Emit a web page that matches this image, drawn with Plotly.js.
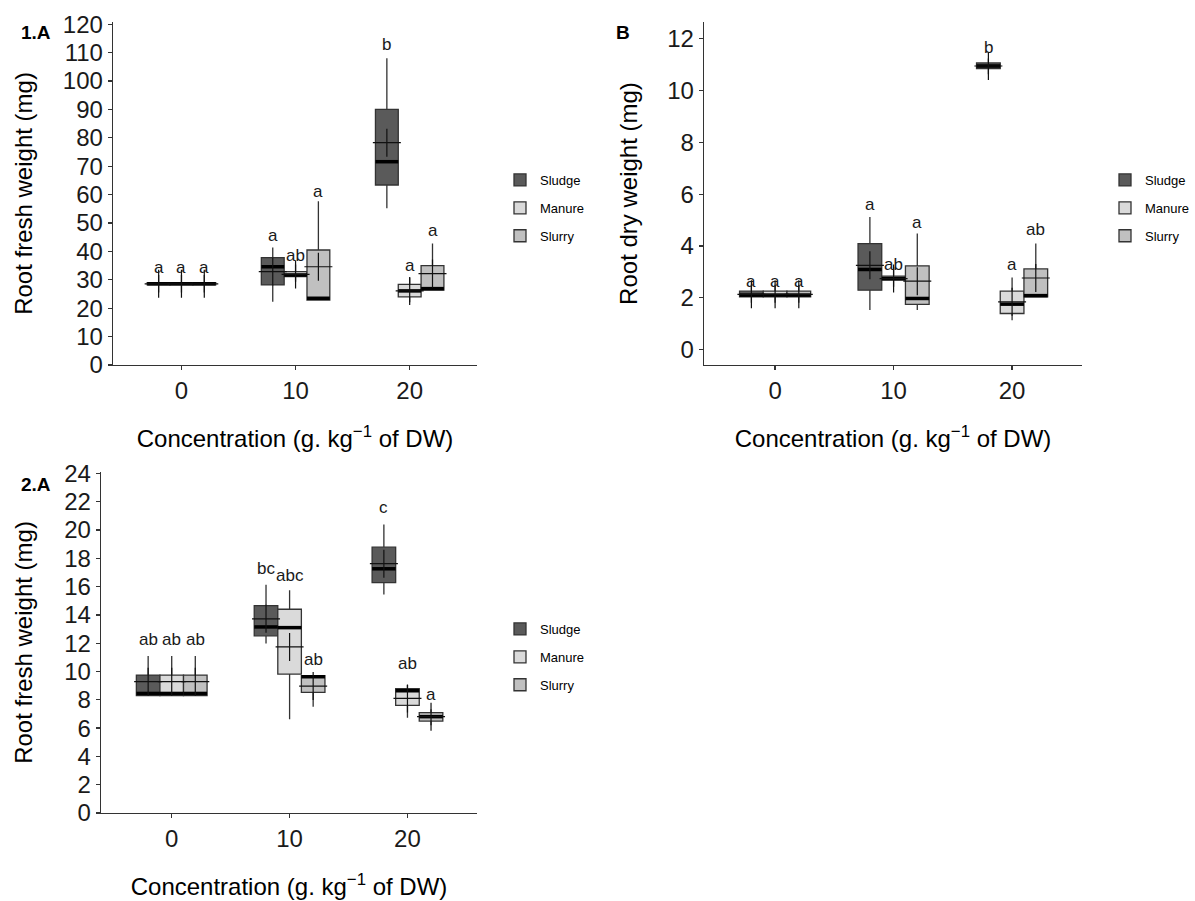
<!DOCTYPE html>
<html>
<head>
<meta charset="utf-8">
<script src="https://cdn.plot.ly/plotly-3.0.1.min.js"></script>
<style>html,body{margin:0;padding:0;background:#fff;}#chart{width:1195px;height:901px;}</style>
</head>
<body>
<div id="chart"></div>
<script>
// ---------- data ----------
const concentrations = [0, 10, 20];
const seriesNames = ['Sludge', 'Manure', 'Slurry'];

// Panel 1.A : Root fresh weight (mg)
const p1_sludge_q1 = [28.2, 28.2, 63.4];
const p1_sludge_med = [28.6, 34.6, 71.6];
const p1_sludge_q3 = [29.0, 37.8, 90.0];
const p1_sludge_lo = [25.5, 22.3, 55.2];
const p1_sludge_hi = [31.7, 41.4, 108.0];
const p1_sludge_mean = [28.6, 32.9, 78.3];
const p1_sludge_letters = ['a', 'a', 'b'];
const p1_sludge_letterY = [34.3, 45.5, 112.9];

const p1_manure_q1 = [28.2, 31.1, 24.0];
const p1_manure_med = [28.6, 31.7, 26.1];
const p1_manure_q3 = [29.0, 32.9, 28.4];
const p1_manure_lo = [25.5, 29.3, 22.1];
const p1_manure_hi = [31.7, 35.4, 30.7];
const p1_manure_mean = [28.6, 31.9, 26.1];
const p1_manure_letters = ['a', 'ab', 'a'];
const p1_manure_letterY = [34.3, 38.4, 35.0];

const p1_slurry_q1 = [28.2, 22.9, 26.4];
const p1_slurry_med = [28.6, 23.5, 26.9];
const p1_slurry_q3 = [29.0, 40.5, 35.0];
const p1_slurry_lo = [25.5, 22.9, 26.4];
const p1_slurry_hi = [31.7, 57.7, 42.8];
const p1_slurry_mean = [28.6, 34.6, 32.2];
const p1_slurry_letters = ['a', 'a', 'a'];
const p1_slurry_letterY = [34.3, 61.0, 47.2];

// Panel B : Root dry weight (mg)
const p2_sludge_q1 = [2.03, 2.29, 10.85];
const p2_sludge_med = [2.10, 3.09, 10.95];
const p2_sludge_q3 = [2.25, 4.09, 11.07];
const p2_sludge_lo = [1.80, 1.52, 10.63];
const p2_sludge_hi = [2.50, 5.12, 11.24];
const p2_sludge_mean = [2.13, 3.25, 10.95];
const p2_sludge_letters = ['a', 'a', 'b'];
const p2_sludge_letterY = [2.64, 5.60, 11.65];

const p2_manure_q1 = [2.03, 2.68, 1.39];
const p2_manure_med = [2.10, 2.74, 1.75];
const p2_manure_q3 = [2.25, 2.83, 2.25];
const p2_manure_lo = [1.80, 2.42, 1.13];
const p2_manure_hi = [2.50, 3.19, 2.78];
const p2_manure_mean = [2.13, 2.74, 1.84];
const p2_manure_letters = ['a', 'ab', 'a'];
const p2_manure_letterY = [2.64, 3.28, 3.28];

const p2_slurry_q1 = [2.03, 1.74, 2.03];
const p2_slurry_med = [2.10, 1.97, 2.08];
const p2_slurry_q3 = [2.25, 3.23, 3.11];
const p2_slurry_lo = [1.80, 1.52, 2.03];
const p2_slurry_hi = [2.50, 4.48, 4.09];
const p2_slurry_mean = [2.13, 2.64, 2.76];
const p2_slurry_letters = ['a', 'a', 'ab'];
const p2_slurry_letterY = [2.64, 4.90, 4.63];

// Panel 2.A : Root fresh weight (mg)
const p3_sludge_q1 = [8.29, 12.52, 16.28];
const p3_sludge_med = [8.45, 13.15, 17.26];
const p3_sludge_q3 = [9.75, 14.66, 18.79];
const p3_sludge_lo = [8.29, 11.98, 15.45];
const p3_sludge_hi = [11.09, 16.14, 20.39];
const p3_sludge_mean = [9.28, 13.72, 17.62];
const p3_sludge_letters = ['ab', 'bc', 'c'];
const p3_sludge_letterY = [12.26, 17.26, 21.6];

const p3_manure_q1 = [8.29, 9.82, 7.61];
const p3_manure_med = [8.45, 13.10, 8.64];
const p3_manure_q3 = [9.75, 14.40, 8.78];
const p3_manure_lo = [8.29, 6.62, 6.74];
const p3_manure_hi = [11.09, 15.74, 9.04];
const p3_manure_mean = [9.28, 11.74, 8.10];
const p3_manure_letters = ['ab', 'abc', 'ab'];
const p3_manure_letterY = [12.26, 16.8, 10.57];

const p3_slurry_q1 = [8.29, 8.53, 6.50];
const p3_slurry_med = [8.45, 9.63, 6.81];
const p3_slurry_q3 = [9.75, 9.70, 7.09];
const p3_slurry_lo = [8.29, 7.51, 6.20];
const p3_slurry_hi = [11.09, 9.70, 7.33];
const p3_slurry_mean = [9.28, 8.97, 6.81];
const p3_slurry_letters = ['ab', 'ab', 'a'];
const p3_slurry_letterY = [12.26, 10.85, 8.41];

const yTitle1 = 'Root fresh weight (mg)';
const yTitle2 = 'Root dry weight (mg)';
const yTitle3 = 'Root fresh weight (mg)';
const xTitle = 'Concentration (g. kg<sup>\u22121</sup> of DW)';
const panelLabels = ['1.A', 'B', '2.A'];

// ---------- styling / building ----------
const FONT = 'Liberation Sans, Arial, sans-serif';
const fills = {Sludge: '#5a5a5a', Manure: '#dadada', Slurry: '#c0c0c0'};
const dodge = {Sludge: -2, Manure: 0, Slurry: 2};
const boxW = 2;

const panels = [
  {xa: 'x', ya: 'y', legend: 'legend', s: {
    Sludge: [p1_sludge_q1, p1_sludge_med, p1_sludge_q3, p1_sludge_lo, p1_sludge_hi, p1_sludge_mean, p1_sludge_letters, p1_sludge_letterY],
    Manure: [p1_manure_q1, p1_manure_med, p1_manure_q3, p1_manure_lo, p1_manure_hi, p1_manure_mean, p1_manure_letters, p1_manure_letterY],
    Slurry: [p1_slurry_q1, p1_slurry_med, p1_slurry_q3, p1_slurry_lo, p1_slurry_hi, p1_slurry_mean, p1_slurry_letters, p1_slurry_letterY]}},
  {xa: 'x2', ya: 'y2', legend: 'legend2', s: {
    Sludge: [p2_sludge_q1, p2_sludge_med, p2_sludge_q3, p2_sludge_lo, p2_sludge_hi, p2_sludge_mean, p2_sludge_letters, p2_sludge_letterY],
    Manure: [p2_manure_q1, p2_manure_med, p2_manure_q3, p2_manure_lo, p2_manure_hi, p2_manure_mean, p2_manure_letters, p2_manure_letterY],
    Slurry: [p2_slurry_q1, p2_slurry_med, p2_slurry_q3, p2_slurry_lo, p2_slurry_hi, p2_slurry_mean, p2_slurry_letters, p2_slurry_letterY]}},
  {xa: 'x3', ya: 'y3', legend: 'legend3', s: {
    Sludge: [p3_sludge_q1, p3_sludge_med, p3_sludge_q3, p3_sludge_lo, p3_sludge_hi, p3_sludge_mean, p3_sludge_letters, p3_sludge_letterY],
    Manure: [p3_manure_q1, p3_manure_med, p3_manure_q3, p3_manure_lo, p3_manure_hi, p3_manure_mean, p3_manure_letters, p3_manure_letterY],
    Slurry: [p3_slurry_q1, p3_slurry_med, p3_slurry_q3, p3_slurry_lo, p3_slurry_hi, p3_slurry_mean, p3_slurry_letters, p3_slurry_letterY]}}
];

const traces = [];
const annotations = [];

panels.forEach((p, pi) => {
  seriesNames.forEach((name) => {
    const [q1, med, q3, lo, hi, mean, letters, letterY] = p.s[name];
    const xs = concentrations.map(c => c + dodge[name]);
    traces.push({
      type: 'box', name: name, xaxis: p.xa, yaxis: p.ya, legend: p.legend,
      legendgroup: 'p' + pi + name,
      x: xs, q1: q1, median: med, q3: q3, lowerfence: lo, upperfence: hi,
      width: boxW, whiskerwidth: 0,
      fillcolor: fills[name], line: {color: '#333333', width: 1.3},
      hoverinfo: 'skip'
    });
    // thick median segments
    const mx = [], my = [];
    xs.forEach((x, i) => { mx.push(x - boxW / 2, x + boxW / 2, null); my.push(med[i], med[i], null); });
    traces.push({type: 'scatter', mode: 'lines', x: mx, y: my, xaxis: p.xa, yaxis: p.ya,
      line: {color: '#000000', width: 3.5}, showlegend: false, hoverinfo: 'skip'});
    // mean crosses
    traces.push({type: 'scatter', mode: 'markers', x: xs, y: mean, xaxis: p.xa, yaxis: p.ya,
      marker: {symbol: 'cross-thin-open', size: 20, color: '#111111', line: {color: '#111111', width: 1.2}},
      showlegend: false, hoverinfo: 'skip'});
    // letters
    xs.forEach((x, i) => {
      annotations.push({xref: p.xa, yref: p.ya, x: x, y: letterY[i], text: letters[i],
        showarrow: false, font: {family: FONT, size: 17, color: '#1a1a1a'}, yanchor: 'middle'});
    });
  });
});

// panel labels
const labelPos = [[19, 33], [614, 33], [19, 484]];
panelLabels.forEach((t, i) => {
  annotations.push({xref: 'paper', yref: 'paper', x: labelPos[i][0] / 1195, y: 1 - labelPos[i][1] / 901,
    xanchor: 'left', yanchor: 'middle', text: '<b>' + t + '</b>', showarrow: false,
    font: {family: FONT, size: 19, color: '#000'}});
});

function xaxis(domain, anchor) {
  return {domain: domain, anchor: anchor, range: [-6, 25.9], tickvals: concentrations,
    ticktext: concentrations.map(String), showline: true, linecolor: '#333', linewidth: 1.3,
    ticks: 'outside', ticklen: 4, tickcolor: '#333', tickwidth: 1.2, showgrid: false, zeroline: false,
    tickfont: {family: FONT, size: 24, color: '#1a1a1a'},
    title: {text: xTitle, font: {family: FONT, size: 24, color: '#000'}, standoff: 27}};
}
function yaxis(domain, anchor, range, dtick, title, standoff) {
  return {domain: domain, anchor: anchor, range: range, dtick: dtick, tick0: 0,
    showline: true, linecolor: '#333', linewidth: 1.3,
    ticks: 'outside', ticklen: 4, tickcolor: '#333', tickwidth: 1.2, showgrid: false, zeroline: false,
    tickfont: {family: FONT, size: 24, color: '#1a1a1a'},
    title: {text: title, font: {family: FONT, size: 24, color: '#000'}, standoff: standoff}};
}

const W = 1195, H = 901;
const legendBase = {font: {family: FONT, size: 13, color: '#000'}, bgcolor: 'rgba(0,0,0,0)',
  xanchor: 'left', yanchor: 'top', tracegroupgap: 8, traceorder: 'grouped'};

const layout = {
  width: W, height: H, margin: {l: 0, r: 0, t: 0, b: 0},
  paper_bgcolor: '#fff', plot_bgcolor: '#fff', boxmode: 'overlay',
  font: {family: FONT},
  xaxis: xaxis([113 / W, 477 / W], 'y'),
  yaxis: yaxis([1 - 365 / H, 1 - 22 / H], 'x', [0, 120.8], 10, yTitle1, 23),
  xaxis2: xaxis([704 / W, 1082 / W], 'y2'),
  yaxis2: yaxis([1 - 365 / H, 1 - 22 / H], 'x2', [-0.6, 12.65], 2, yTitle2, 22),
  xaxis3: xaxis([101 / W, 477 / W], 'y3'),
  yaxis3: yaxis([1 - 813 / H, 1 - 472 / H], 'x3', [0, 24.1], 2, yTitle3, 24),
  legend: Object.assign({x: 500 / W, y: 1 - 165 / H}, legendBase),
  legend2: Object.assign({x: 1105 / W, y: 1 - 165 / H}, legendBase),
  legend3: Object.assign({x: 500 / W, y: 1 - 614 / H}, legendBase),
  annotations: annotations,
  showlegend: true
};

Plotly.newPlot('chart', traces, layout, {displayModeBar: false, staticPlot: true});
</script>
</body>
</html>
